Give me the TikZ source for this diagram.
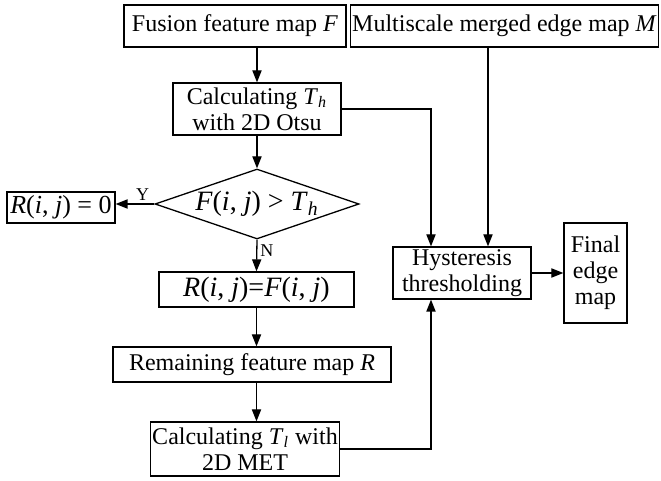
\documentclass[tikz,border=0pt]{standalone}
\usepackage{fontspec}
\setmainfont{Liberation Serif}
\usepackage{tikz}
\usetikzlibrary{shapes.geometric, arrows.meta, positioning}

\newcommand{\mi}[1]{\textit{#1}}

\begin{document}
\begin{tikzpicture}[
  x=0.5pt, y=-0.5pt,
  box/.style={draw,line width=0.65pt,inner sep=1pt,align=center,
              font=\fontsize{12}{13}\selectfont},
  decision/.style={draw,diamond,shape aspect=2.9,line width=0.65pt,inner sep=0pt,
                   font=\fontsize{14}{15}\selectfont},
  arr/.style={-{Triangle[length=6pt,width=4.6pt]},line width=0.65pt},
  lbl/.style={font=\fontsize{9}{10}\selectfont,inner sep=1.5pt}
]
  \useasboundingbox (0,0) rectangle (661,481);

  \node[box,minimum width=111pt,minimum height=21pt] (fusion) at (235,26)
       {Fusion feature map \mi{F}};
  \node[box,minimum width=149.5pt,minimum height=21pt] (multi) at (504.5,26)
       {Multiscale merged edge map \mi{M}};
  \node[box,minimum width=84pt,minimum height=26pt] (calcTh) at (257,109)
       {Calculating \mi{T}\textsubscript{\mi{h}}\\with 2D Otsu};
  \node[decision,minimum width=102pt,minimum height=35pt] (dec) at (257,204)
       {\mi{F}(\mi{i}, \mi{j}) > \mi{T}\textsubscript{\mi{h}}};
  \node[box,minimum width=54pt,minimum height=15.5pt,font=\fontsize{13}{14}\selectfont]
       (rzero) at (61,207.5) {\mi{R}(\mi{i}, \mi{j}) = 0};
  \node[box,minimum width=97.5pt,minimum height=17.5pt,font=\fontsize{14}{15}\selectfont]
       (rf) at (256.5,289.5) {\mi{R}(\mi{i}, \mi{j})=\mi{F}(\mi{i}, \mi{j})};
  \node[box,minimum width=139pt,minimum height=17.5pt] (remain) at (252,364.5)
       {Remaining feature map \mi{R}};
  \node[box,minimum width=94.3pt,minimum height=27pt] (calcTl) at (245,449)
       {Calculating \mi{T}\textsubscript{\mi{l}} with\\2D MET};
  \node[box,minimum width=69pt,minimum height=26pt] (hyst) at (462,273)
       {Hysteresis\\thresholding};
  \node[box,minimum width=31.5pt,minimum height=50pt] (final) at (595.5,273)
       {Final\\edge\\map};

  % entry points on the hysteresis box
  \coordinate (hinL) at ([xshift=-15.5pt]hyst.north);
  \coordinate (hinR) at ([xshift=13pt]hyst.north);
  \coordinate (hinB) at ([xshift=-15.5pt]hyst.south);

  % main column
  \draw[arr] (calcTh.north |- fusion.south) -- (calcTh.north);
  \draw[arr] (calcTh.south) -- (dec.north);
  \draw[arr] (dec.west) -- node[lbl,above,pos=0.3]{Y} (dec.west -| rzero.east);
  \draw[arr] (dec.south) -- node[lbl,right,pos=0.35]{N} (rf.north);
  \draw[arr] (rf.south) -- (rf.south |- remain.north);
  \draw[arr] (remain.south -| rf.south) -- (calcTl.north -| rf.south);
  % thresholds into hysteresis
  \draw[arr] (calcTh.east) -| (hinL);
  \draw[arr] (multi.south -| hinR) -- (hinR);
  \draw[arr] (calcTl.east) -| (hinB);
  \draw[arr] (hyst.east) -- (final.west);
\end{tikzpicture}
\end{document}
